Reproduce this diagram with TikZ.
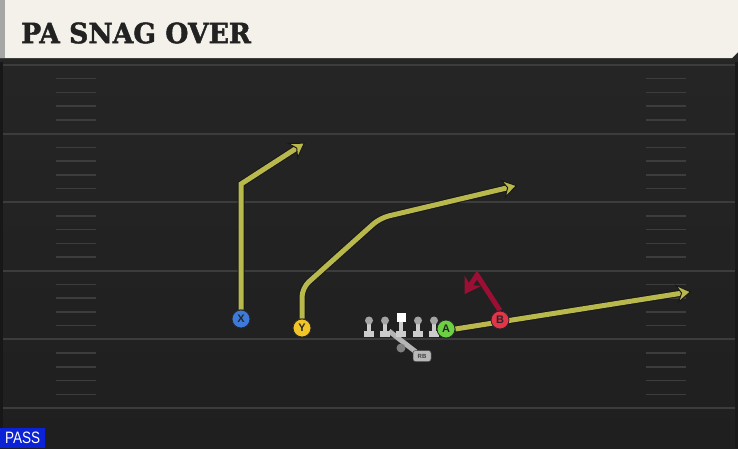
\documentclass[tikz,border=0pt]{standalone}
\usepackage{fontspec}
\setmainfont{DejaVu Serif}
\newfontfamily\titlefont[FakeBold=1.6]{DejaVu Serif}
\newfontfamily\labelfont{Liberation Sans}
\definecolor{fieldbg}{HTML}{262626}
\definecolor{fieldbot}{HTML}{1f1f1f}
\definecolor{yardcol}{HTML}{3c3c3c}
\definecolor{hashcol}{HTML}{3d3d3d}
\definecolor{titlebg}{HTML}{F4F1EA}
\definecolor{titletxt}{HTML}{222222}
\definecolor{routeyellow}{HTML}{B8B84C}
\definecolor{routered}{HTML}{9A0F33}
\definecolor{xblue}{HTML}{3D7BDA}
\definecolor{yyellow}{HTML}{F2C526}
\definecolor{agreen}{HTML}{6CD043}
\definecolor{bred}{HTML}{E2354A}
\definecolor{olgray}{HTML}{CCCCCC}
\definecolor{headgray}{HTML}{A4A4A4}
\definecolor{passblue}{HTML}{0B22D6}
\tikzset{
  yardline/.style={draw=yardcol, line width=2pt},
  hashline/.style={draw=hashcol, line width=1.5pt},
  player/.style={circle, minimum size=18pt, inner sep=0pt, draw=black!85, line width=0.8pt,
    font=\labelfont\bfseries\fontsize{11}{11}\selectfont, text=black!85},
  route/.style={draw=routeyellow, line width=5pt, line join=miter, shorten >=7pt,
    preaction={draw=black!90, line width=7pt}},
  redroute/.style={draw=routered, line width=5pt, line join=miter, shorten >=7pt},
  tipshape/.style={line width=1pt, line join=miter},
  rbtag/.style={rounded corners=2.5pt, fill=olgray!90!black, draw=black!70, line width=0.5pt,
    minimum width=18pt, minimum height=11pt, inner sep=0pt,
    font=\labelfont\bfseries\fontsize{6}{6}\selectfont, text=black!75}
}
% #1 coordinate, #2 angle, #3 fill, #4 outline
\newcommand\routetip[4]{%
  \begin{scope}[shift={(#1)}, rotate=#2]
    \filldraw[tipshape, fill=#3, draw=#4] (1.5,0) -- (-12,8.5) -- (-7.5,0) -- (-12,-8.5) -- cycle;
  \end{scope}}
\begin{document}
\begin{tikzpicture}[x=1pt,y=-1pt]
\useasboundingbox (0,0) rectangle (738,448);
% field
\shade[top color=fieldbg, bottom color=fieldbot] (0,0) rectangle (738,448);
\fill[black!40!fieldbg] (0,60) rectangle (3,448);
\fill[fieldbot!80!black] (735,60) rectangle (738,448);
% yard lines
\foreach \yy in {65,133.6,202.2,270.8,339.4,408}
  \draw[yardline] (3,\yy) -- (735,\yy);
% hash marks
\foreach \i in {0,...,4}{
  \foreach \j in {1,...,4}{
    \pgfmathsetmacro{\hy}{65+68.6*\i+13.72*\j}
    \draw[hashline] (56,\hy) -- (96,\hy);
    \draw[hashline] (646,\hy) -- (686,\hy);
  }
}
% title bar
\fill[black!85] (0,56) rectangle (738,62);
\fill[titlebg] (0,0) -- (738,0) -- (738,52) -- (732,58) -- (0,58) -- cycle;
\fill[gray!70] (0,0) rectangle (5,58);
\node[anchor=west, inner sep=0pt, text=titletxt, font=\titlefont\bfseries\fontsize{28}{28}\selectfont] (title) at (21,33) {\scalebox{0.95}[1]{PA SNAG OVER}};
% PASS tag
\node[anchor=south west, fill=passblue, inner sep=0pt, minimum width=45pt, minimum height=20pt,
  text=white, font=\labelfont\fontsize{16.5}{16.5}\selectfont] (pass) at (0,448) {\scalebox{0.82}[1]{PASS}};
% route points
\coordinate (xp1) at (241,184);
\coordinate (xend) at (303,144);
\coordinate (yp1) at (302,288);
\coordinate (yp2) at (380,218);
\coordinate (yend) at (515,186);
\coordinate (aend) at (689,292);
\coordinate (bp1) at (477,275);
\coordinate (bend) at (466,292);
% players
\node[player, fill=xblue] (X) at (241,319) {X};
\node[player, fill=yyellow] (Y) at (302,328) {Y};
\node[player, fill=agreen] (A) at (446,329) {A};
\node[player, fill=bred] (B) at (500,320) {B};
% routes
\draw[route] (X.north) -- (xp1) -- (xend);
\routetip{xend}{33.06}{routeyellow}{black!90}
\draw[route, rounded corners=9pt] (Y.north) -- (yp1) -- (yp2) -- (yend);
\routetip{yend}{13.24}{routeyellow}{black!90}
\draw[route] (A.east) -- (aend);
\routetip{aend}{8.62}{routeyellow}{black!90}
\draw[redroute] (B.north) -- (bp1) -- (bend);
\routetip{bend}{-121.6}{routered}{routered}
% players on top of routes
\node[player, fill=xblue] at (X) {X};
\node[player, fill=yyellow] at (Y) {Y};
\node[player, fill=bred] at (B) {B};
% backfield
\draw[olgray!88!black, line width=5pt] (389,331) -- (416,352);
\fill[black!50] (401,348) circle (4.5);
\node[rbtag] (RB) at (422,356) {RB};
% offensive line
\foreach \lx in {369,385,418,434}{
  \fill[olgray] (\lx-2.4,321) rectangle (\lx+2.4,333);
  \fill[olgray] (\lx-5,331) rectangle (\lx+5,336.5);
  \fill[headgray] (\lx,320.5) circle (4);
}
\fill[olgray] (401-2.4,320) rectangle (401+2.4,333);
\fill[olgray] (401-5,331) rectangle (401+5,336.5);
\fill[white] (396.5,313) rectangle (405.5,322);
\node[player, fill=agreen] at (A) {A};
\end{tikzpicture}
\end{document}
